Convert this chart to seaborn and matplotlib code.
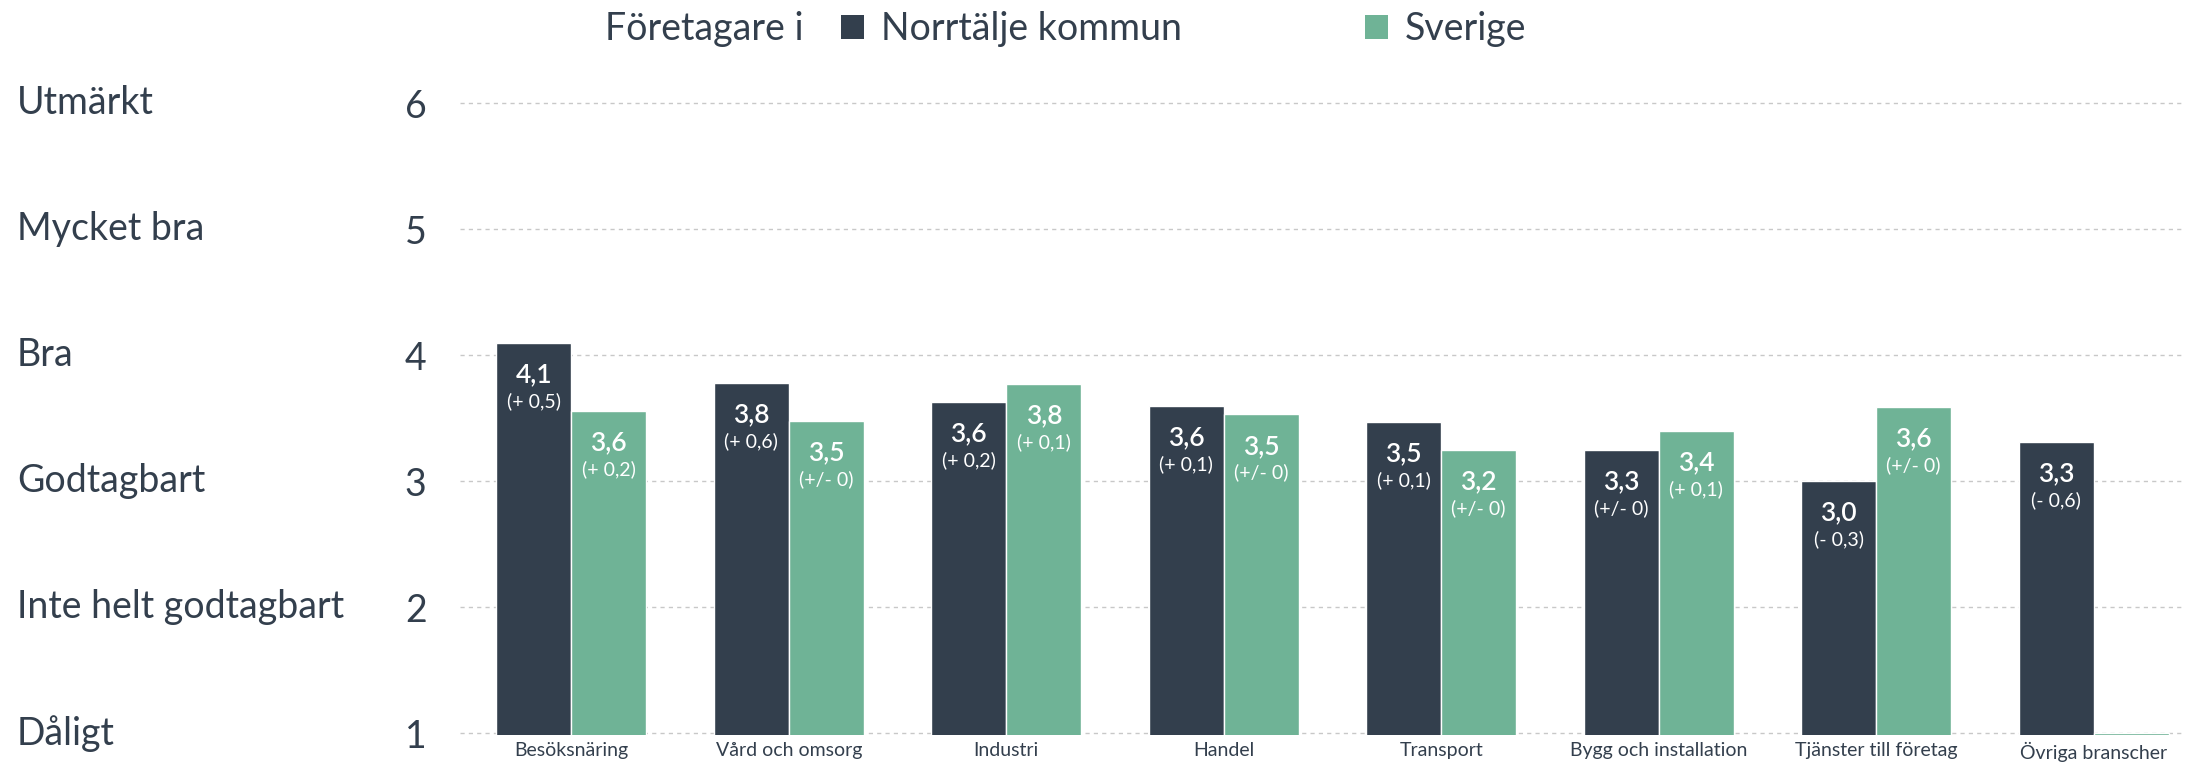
import numpy as np
import pandas as pd
import seaborn as sns
import matplotlib.pyplot as plt
from matplotlib.patches import FancyBboxPatch, Patch
from matplotlib import transforms

# data
branscher = ["Besöksnäring", "Vård och omsorg", "Industri", "Handel",
             "Transport", "Bygg och installation", "Tjänster till företag",
             "Övriga branscher"]
norrtalje = [4.10, 3.78, 3.63, 3.60, 3.47, 3.25, 3.00, 3.31]
sverige = [3.56, 3.48, 3.77, 3.53, 3.25, 3.40, 3.59, 1.00]
norrtalje_txt = ["4,1", "3,8", "3,6", "3,6", "3,5", "3,3", "3,0", "3,3"]
norrtalje_diff = ["(+ 0,5)", "(+ 0,6)", "(+ 0,2)", "(+ 0,1)", "(+ 0,1)",
                  "(+/- 0)", "(- 0,3)", "(- 0,6)"]
sverige_txt = ["3,6", "3,5", "3,8", "3,5", "3,2", "3,4", "3,6", ""]
sverige_diff = ["(+ 0,2)", "(+/- 0)", "(+ 0,1)", "(+/- 0)", "(+/- 0)",
                "(+ 0,1)", "(+/- 0)", ""]
skala = ["Dåligt", "Inte helt godtagbart", "Godtagbart", "Bra",
         "Mycket bra", "Utmärkt"]
skala_varden = [1, 2, 3, 4, 5, 6]
serier = ["Norrtälje kommun", "Sverige"]

DARK = "#333f4d"
GREEN = "#6fb396"
TEXT = "#333f4d"

df = pd.DataFrame({
    "bransch": branscher * 2,
    "serie": [serier[0]] * len(branscher) + [serier[1]] * len(branscher),
    "varde": norrtalje + sverige,
})

sns.set_theme(style="white")
plt.rcParams["font.family"] = ["Lato", "DejaVu Sans"]

fig = plt.figure(figsize=(21.85, 7.69), dpi=100)
ax = fig.add_axes([0.2105, 0.0442, 0.7895, 0.8709])

sns.barplot(data=df, x="bransch", y="varde", hue="serie",
            palette=[DARK, GREEN], width=0.69, saturation=1,
            legend=False, ax=ax)

ax.set_ylim(0.985, 6.3)
ax.set_xlim(-0.512, 7.42)
ax.set_xlabel("")
ax.set_ylabel("")
for s in ax.spines.values():
    s.set_visible(False)

ax.set_yticks(skala_varden)
ax.set_yticklabels([str(v) for v in skala_varden], fontsize=27, color=TEXT)
ax.tick_params(axis="y", length=0, pad=24)
ax.tick_params(axis="x", length=0, pad=5, labelsize=14, labelcolor=TEXT)
ax.yaxis.grid(True, linestyle=(0, (3, 3)), color="#c8c8c8", linewidth=1)
ax.set_axisbelow(True)

# scale names to the far left
trans = transforms.blended_transform_factory(fig.transFigure, ax.transData)
for v, name in zip(skala_varden, skala):
    ax.text(0.0078, v, name, transform=trans, fontsize=27, color=TEXT,
            va="center", ha="left")

# labels inside the bars
bar_sets = [(ax.containers[0], norrtalje_txt, norrtalje_diff),
            (ax.containers[1], sverige_txt, sverige_diff)]
for cont, txts, diffs in bar_sets:
    for bar, t, d in zip(cont, txts, diffs):
        if not t:
            continue
        x = bar.get_x() + bar.get_width() / 2
        top = bar.get_height()
        ax.annotate(t, (x, top), xytext=(0, -23), textcoords="offset points",
                    ha="center", va="center", color="white", fontsize=19,
                    fontweight="semibold")
        ax.annotate(d, (x, top), xytext=(0, -42), textcoords="offset points",
                    ha="center", va="center", color="white", fontsize=14)

# legend at the top
fig.text(0.277, 0.962, "Företagare i", fontsize=27, color=TEXT,
         ha="left", va="center")
handles = [Patch(facecolor=DARK, edgecolor="none"),
           Patch(facecolor=GREEN, edgecolor="none")]
leg = fig.legend(handles, serier, loc="center left",
                 bbox_to_anchor=(0.385, 0.962), ncol=2, frameon=False,
                 fontsize=27, handlelength=0.6, handleheight=0.6,
                 handletextpad=0.45, columnspacing=4.9, borderaxespad=0,
                 borderpad=0)
for t in leg.get_texts():
    t.set_color(TEXT)

fig.savefig("out.png", dpi=100)
